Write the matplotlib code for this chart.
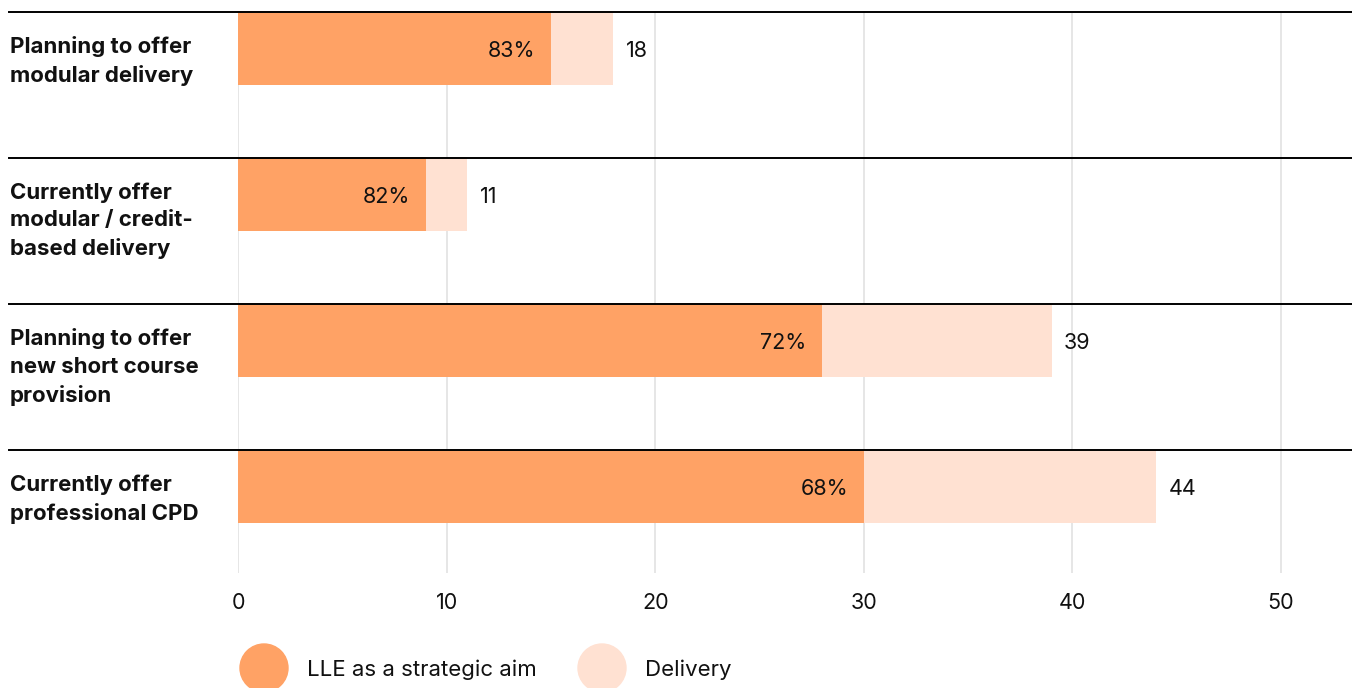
import matplotlib.pyplot as plt
import matplotlib.transforms as mtransforms
from matplotlib.lines import Line2D
from matplotlib.patches import Circle

plt.rcParams['font.family'] = ['Inter', 'DejaVu Sans']

# Data
categories = [
    'Planning to offer\nmodular delivery',
    'Currently offer\nmodular / credit-\nbased delivery',
    'Planning to offer\nnew short course\nprovision',
    'Currently offer\nprofessional CPD',
]
strategic = [15, 9, 28, 30]      # LLE as a strategic aim
delivery = [18, 11, 39, 44]      # total delivering
legend_labels = ['LLE as a strategic aim', 'Delivery']

orange = '#FFA265'
light = '#FFE1D2'

W, H = 1352, 688
fig = plt.figure(figsize=(W / 100, H / 100), dpi=100)
ax = fig.add_axes([238 / W, 1 - 573 / H, (W - 238) / W, (573 - 12) / H])

n = len(categories)
ypos = [i + 0.25 for i in range(n)]
ax.barh(ypos, delivery, height=0.5, color=light, zorder=2)
ax.barh(ypos, strategic, height=0.5, color=orange, zorder=3)

for i in range(n):
    pct = round(100 * strategic[i] / delivery[i])
    ax.text(strategic[i] - 0.75, ypos[i] + 0.015, f'{pct}%', ha='right', va='center',
            fontsize=15.5, color='#111111', zorder=4)
    ax.text(delivery[i] + 0.6, ypos[i] + 0.015, str(delivery[i]), ha='left', va='center',
            fontsize=15.5, color='#111111', zorder=4)

ax.set_xlim(0, (W - 238) / 20.86)
ax.set_ylim((573 - 12) / 146, 0)
ax.set_xticks(range(0, 51, 10))
ax.set_yticks([])
ax.tick_params(axis='x', length=0, pad=14.5, labelsize=15.5, labelcolor='#111111')
ax.grid(axis='x', color='#e4e4e4', lw=1.3, zorder=0)
ax.set_axisbelow(True)
for s in ax.spines.values():
    s.set_visible(False)

# row separators and category labels
blend = mtransforms.blended_transform_factory(fig.transFigure, ax.transData)
for i, cat in enumerate(categories):
    fig.add_artist(Line2D([9 / W, 1], [i, i], transform=blend, color='black', lw=1.4, zorder=5))
    fig.text(10 / W, i + 0.165, cat, transform=blend, ha='left', va='top',
             fontsize=16, fontweight='bold', color='#111111', linespacing=1.48)

# legend
lax = fig.add_axes([0, 0, 1, 1], zorder=-1)
lax.set_xlim(0, W)
lax.set_ylim(H, 0)
lax.axis('off')
for cx, col, tx, lab in [(264, orange, 307, legend_labels[0]), (602, light, 645, legend_labels[1])]:
    lax.add_patch(Circle((cx, 668), 24, color=col))
    lax.text(tx, 670, lab, ha='left', va='center', fontsize=16, color='#111111')

fig.savefig('out.png', dpi=100)
